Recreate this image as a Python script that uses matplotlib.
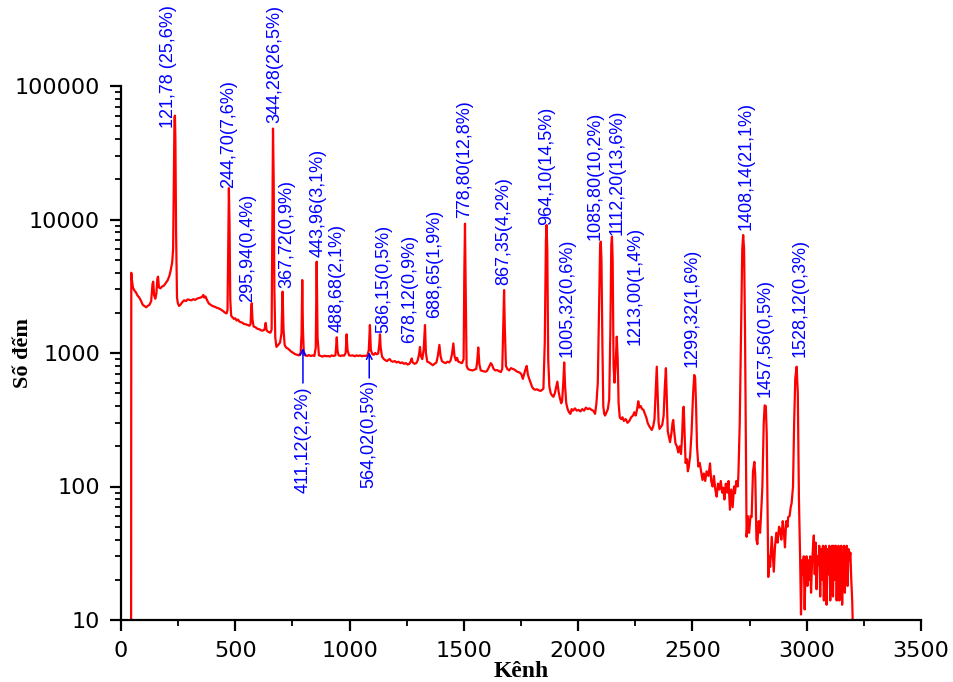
import matplotlib
matplotlib.use("Agg")
import matplotlib.pyplot as plt
from matplotlib.ticker import FixedLocator, FuncFormatter, LogLocator, NullFormatter

# ---------------- data (channel, counts) ----------------
region_low = [
    (44, 1), (45, 3990), (48, 3500), (52, 3100), (58, 2950), (65, 2850), (72, 2700),
    (80, 2600), (88, 2450), (95, 2300), (102, 2250), (110, 2200), (118, 2260),
    (125, 2300), (132, 2450), (138, 3300), (141, 3420), (145, 2700), (150, 2550),
    (155, 2800), (159, 3600), (162, 3730), (166, 3100), (172, 3050), (180, 3150),
    (188, 3200), (196, 3350), (204, 3500), (212, 3800), (218, 4200), (224, 4800),
    (228, 6000), (231, 20000), (234, 58000), (236, 60000), (238, 40000), (241, 8000),
    (245, 2600), (249, 2350), (254, 2250), (260, 2300), (268, 2400), (276, 2480),
    (284, 2450), (292, 2520), (300, 2500), (308, 2480), (316, 2530), (324, 2500),
    (332, 2550), (340, 2580), (348, 2600), (356, 2650), (360, 2720), (364, 2600),
    (370, 2650), (376, 2500), (384, 2350), (392, 2300), (400, 2250), (410, 2220),
    (420, 2180), (430, 2150), (440, 2100), (448, 2050), (456, 2000), (462, 1980),
    (466, 2100), (469, 6000), (472, 17200), (475, 9000), (478, 2500), (482, 1900),
    (488, 1850), (494, 1800), (500, 1820), (506, 1750), (512, 1780), (518, 1720),
    (524, 1700), (530, 1690), (538, 1650), (546, 1640), (554, 1620), (562, 1600),
    (567, 1650), (570, 2200), (572, 2360), (575, 1800), (580, 1580), (588, 1560),
    (596, 1520), (604, 1510), (612, 1480), (620, 1470), (628, 1500), (633, 1680),
    (637, 1480), (642, 1450), (648, 1430), (654, 1420), (659, 1500), (662, 8000),
    (665, 48000), (668, 20000), (671, 3000), (675, 1300), (680, 1110), (688, 1150),
    (696, 1200), (702, 1400), (707, 2880), (711, 1500), (716, 1150), (722, 1100),
    (730, 1080), (738, 1050), (746, 1020), (754, 1000), (762, 980), (770, 970),
    (778, 960), (786, 1000), (790, 1400), (793, 3520), (796, 1500), (800, 980),
    (806, 960), (814, 950), (822, 965), (830, 950), (838, 960), (846, 950),
    (852, 1100), (856, 4830), (860, 1300), (866, 960), (874, 950), (882, 940),
    (890, 955), (898, 945), (906, 950), (914, 940), (922, 960), (930, 950),
    (938, 960), (941, 1100), (944, 1310), (947, 1050), (952, 960), (960, 950),
    (968, 960), (976, 955), (983, 1000), (987, 1380), (991, 1050), (998, 960),
]
region_mid = [
    (1006, 955), (1014, 960), (1022, 945), (1030, 960), (1038, 950), (1046, 960),
    (1054, 945), (1062, 955), (1070, 950), (1078, 960), (1084, 1050), (1089, 1620),
    (1093, 1050), (1100, 980), (1106, 970), (1112, 1000), (1118, 980), (1125, 990),
    (1130, 1150), (1133, 1380), (1136, 1100), (1142, 940), (1150, 900), (1158, 880),
    (1164, 870), (1170, 890), (1176, 900), (1182, 870), (1190, 860), (1198, 870),
    (1206, 850), (1214, 860), (1222, 840), (1230, 850), (1238, 830), (1246, 840),
    (1254, 820), (1262, 830), (1268, 870), (1272, 910), (1276, 850), (1284, 830),
    (1292, 840), (1298, 880), (1304, 980), (1308, 1110), (1312, 950), (1318, 900),
    (1324, 1050), (1330, 1620), (1334, 1000), (1340, 860), (1348, 850), (1356, 830),
    (1364, 810), (1372, 830), (1380, 850), (1386, 950), (1393, 1150), (1398, 950),
    (1404, 870), (1412, 850), (1420, 840), (1428, 860), (1436, 850), (1442, 880),
    (1448, 980), (1454, 1180), (1459, 950), (1465, 880), (1470, 920), (1476, 860),
    (1484, 850), (1492, 840), (1499, 900), (1502, 4000), (1505, 9300), (1508, 3000),
    (1512, 800), (1518, 760), (1524, 750), (1530, 746), (1538, 740), (1546, 750),
    (1554, 760), (1558, 850), (1563, 1100), (1568, 820), (1574, 740), (1580, 735),
    (1586, 730), (1594, 725), (1600, 730), (1606, 760), (1612, 800), (1618, 840),
    (1624, 810), (1630, 760), (1638, 740), (1646, 745), (1654, 730), (1662, 720),
    (1668, 760), (1673, 1800), (1676, 2960), (1679, 1600), (1684, 800), (1690, 760),
    (1698, 740), (1706, 770), (1714, 760), (1722, 750), (1730, 730), (1738, 720),
    (1746, 710), (1752, 690), (1758, 640), (1764, 700), (1770, 760), (1775, 800),
    (1780, 690), (1786, 640), (1792, 600), (1798, 560), (1804, 540), (1812, 530),
    (1820, 535), (1828, 525), (1836, 520), (1842, 530), (1848, 540), (1854, 1200),
    (1859, 7000), (1862, 9100), (1865, 6000), (1869, 900), (1874, 560), (1880, 500),
    (1886, 480), (1892, 470), (1898, 500), (1904, 560), (1909, 610), (1914, 520),
    (1920, 460), (1926, 420), (1930, 440), (1935, 600), (1939, 850), (1943, 560),
    (1948, 420), (1954, 380), (1960, 360), (1966, 350), (1972, 380), (1978, 370),
    (1986, 385), (1994, 370),
]
region_high = [
    (2002, 375), (2010, 365), (2018, 380), (2026, 370), (2034, 390), (2042, 380),
    (2050, 385), (2058, 375), (2066, 370), (2074, 350), (2080, 420), (2086, 600),
    (2092, 2500), (2096, 6200), (2099, 6820), (2102, 5000), (2106, 1200), (2110, 400),
    (2114, 350), (2118, 340), (2124, 360), (2130, 380), (2136, 450), (2141, 1500),
    (2145, 6500), (2148, 7440), (2151, 5000), (2155, 800), (2159, 600), (2165, 900),
    (2169, 1325), (2173, 900), (2177, 420), (2182, 330), (2188, 320), (2194, 330),
    (2200, 310), (2208, 320), (2216, 300), (2224, 310), (2232, 330), (2240, 340),
    (2246, 360), (2252, 340), (2258, 380), (2263, 435), (2268, 390), (2274, 400),
    (2280, 380), (2286, 375), (2292, 350), (2298, 330), (2304, 300), (2310, 285),
    (2316, 275), (2322, 265), (2328, 280), (2334, 320), (2339, 500), (2344, 790),
    (2348, 500), (2352, 300), (2356, 270), (2362, 280), (2368, 290), (2374, 340),
    (2379, 550), (2384, 770), (2388, 450), (2392, 260), (2396, 240), (2402, 215),
    (2408, 250), (2413, 300), (2416, 315), (2420, 260), (2426, 210), (2432, 200),
    (2438, 180), (2444, 200), (2450, 175), (2455, 240), (2459, 380), (2462, 396),
    (2466, 250), (2470, 150), (2476, 160), (2480, 130), (2484, 140), (2490, 170),
    (2496, 250), (2503, 500), (2508, 684), (2512, 650), (2516, 400), (2520, 200),
    (2526, 141), (2532, 150), (2538, 130), (2544, 112), (2550, 125), (2556, 110),
    (2562, 130), (2570, 120), (2577, 149), (2582, 110), (2588, 100), (2594, 120),
    (2600, 95), (2606, 84), (2612, 105), (2618, 95), (2624, 110), (2630, 90),
    (2635, 98), (2640, 80), (2646, 105), (2652, 90), (2658, 110), (2664, 67),
    (2670, 95), (2676, 70), (2682, 100), (2686, 89), (2692, 110), (2698, 100),
    (2701, 120), (2707, 300), (2713, 1500), (2718, 6000), (2722, 7650), (2726, 6000),
    (2730, 1500), (2734, 200), (2737, 42), (2742, 60), (2748, 45), (2754, 60),
    (2759, 59), (2765, 130), (2771, 153), (2775, 120), (2780, 40), (2784, 37),
    (2790, 55), (2796, 45), (2800, 60), (2806, 100), (2812, 300), (2816, 405),
    (2821, 400), (2825, 250), (2830, 40), (2832, 21), (2836, 30), (2840, 25),
    (2847, 42), (2852, 30), (2856, 23), (2861, 35), (2867, 45), (2873, 38),
    (2879, 50), (2883, 48), (2889, 40), (2895, 55), (2900, 45), (2905, 35),
    (2910, 55), (2916, 50), (2919, 59), (2925, 60), (2930, 70), (2934, 75),
    (2940, 100), (2945, 300), (2950, 650), (2956, 790), (2961, 500), (2966, 80),
]
region_tail = [
    (2971, 30), (2975, 11), (2979, 28), (2983, 22), (2987, 30), (2991, 12),
    (2995, 25), (2999, 30), (3003, 18), (3007, 28), (3011, 20), (3015, 30),
    (3019, 16), (3023, 26), (3027, 34), (3031, 43), (3035, 22), (3039, 38),
    (3043, 17), (3047, 30), (3051, 26), (3055, 36), (3059, 15), (3063, 34),
    (3067, 20), (3071, 36), (3075, 14), (3079, 30), (3083, 36), (3087, 13),
    (3091, 34), (3095, 22), (3099, 36), (3103, 14), (3107, 30), (3111, 36),
    (3115, 15), (3119, 36), (3123, 20), (3127, 36), (3131, 14), (3135, 30),
    (3139, 36), (3143, 14), (3147, 30), (3151, 36), (3155, 13), (3159, 28),
    (3163, 36), (3167, 16), (3171, 30), (3175, 36), (3179, 18), (3183, 34),
    (3187, 28), (3191, 32), (3195, 20), (3199, 14), (3201, 10),
]

# peak labels above the spectrum: text, anchor channel, anchor counts (bottom of text)
peak_labels = ["121,78 (25,6%)", "244,70(7,6%)", "295,94(0,4%)", "344,28(26,5%)",
               "367,72(0,9%)", "443,96(3,1%)", "488,68(2,1%)", "586,15(0,5%)",
               "678,12(0,9%)", "688,65(1,9%)", "778,80(12,8%)", "867,35(4,2%)",
               "964,10(14,5%)", "1005,32(0,6%)", "1085,80(10,2%)", "1112,20(13,6%)",
               "1213,00(1,4%)", "1299,32(1,6%)", "1408,14(21,1%)", "1457,56(0,5%)",
               "1528,12(0,3%)"]
peak_label_x = [207, 469, 554, 674, 725, 863, 946, 1151, 1264, 1374, 1505, 1673,
                1862, 1950, 2074, 2169, 2249, 2497, 2737, 2818, 2971]
peak_label_y = [48400, 17240, 2410, 52800, 3070, 5240, 1435, 1413, 1189, 1828, 10250,
                3230, 9100, 933, 7020, 7650, 1148, 785, 8340, 468, 933]

# labels below the spectrum with arrows
arrow_labels = ["411,12(2,2%)", "564,02(0,5%)"]
arrow_x = [796, 1086]
arrow_tail_y = [596, 650]
arrow_head_y = [1090, 1016]
arrow_label_top = [560, 628]

x_ticks = [0, 500, 1000, 1500, 2000, 2500, 3000, 3500]
y_ticks = [10, 100, 1000, 10000, 100000]

# ---------------- drawing ----------------
spectrum = region_low + region_mid + region_high + region_tail
chan = [p[0] for p in spectrum]
cnts = [p[1] for p in spectrum]

lab_family, lab_size = ["Liberation Sans", "DejaVu Sans"], 13

fig = plt.figure(figsize=(9.54, 6.82), dpi=100)
ax = fig.add_axes([121 / 954, 62 / 682, 800 / 954, 534 / 682])
ax.plot(chan, cnts, color="#ff0000", lw=1.6)
ax.set_yscale("log")
ax.set_xlim(0, 3500)
ax.set_ylim(10, 100000)

for s in ["top", "right"]:
    ax.spines[s].set_visible(False)
for s in ["left", "bottom"]:
    ax.spines[s].set_linewidth(1.6)

ax.xaxis.set_major_locator(FixedLocator(x_ticks))
ax.xaxis.set_minor_locator(FixedLocator([250, 750, 1250, 1750, 2250, 2750, 3250]))
ax.yaxis.set_major_locator(FixedLocator(y_ticks))
ax.yaxis.set_minor_locator(LogLocator(base=10, subs=range(2, 10)))
ax.yaxis.set_minor_formatter(NullFormatter())
ax.yaxis.set_major_formatter(FuncFormatter(lambda v, p: "%d" % v))
ax.tick_params(which="major", direction="out", length=8, width=1.6, pad=7,
               labelsize=16)
ax.tick_params(which="minor", direction="out", length=4.5, width=1.3)
for lab in ax.get_xticklabels() + ax.get_yticklabels():
    lab.set_family("DejaVu Sans")

serif = ["Liberation Serif", "DejaVu Serif"]
ax.set_xlabel("Kênh", family=serif, fontweight="bold", fontsize=17, labelpad=0)
fig.text(23 / 954, 1 - 353 / 682, "Số đếm", rotation=90, ha="center", va="center",
         family=serif, fontweight="bold", fontsize=16)

for t, x, y in zip(peak_labels, peak_label_x, peak_label_y):
    ax.text(x, y, t, rotation=90, ha="center", va="bottom", color="blue",
            family=lab_family, fontsize=lab_size)

for t, x, yt, yh, yl in zip(arrow_labels, arrow_x, arrow_tail_y, arrow_head_y,
                            arrow_label_top):
    ax.annotate("", xy=(x, yh), xytext=(x, yt),
                arrowprops=dict(arrowstyle="->", color="blue", lw=1.1,
                                shrinkA=0, shrinkB=0))
    ax.text(x, yl, t, rotation=90, ha="center", va="top", color="blue",
            family=lab_family, fontsize=lab_size)

fig.savefig("out.png", dpi=100)
